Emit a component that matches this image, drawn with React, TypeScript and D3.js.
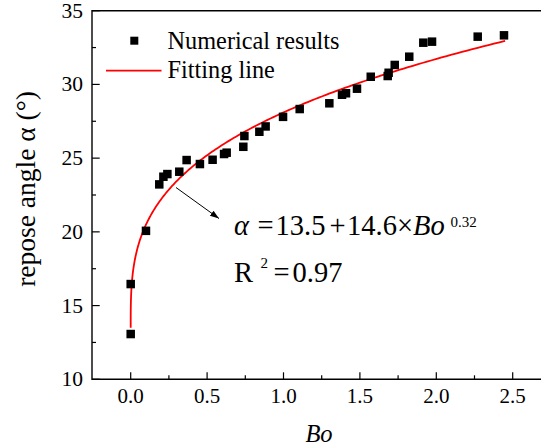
import React, { useEffect, useRef } from "react";
import * as d3 from "d3";

// numerical results (Bo, repose angle)
const boValues = [0, 0, 0.1, 0.187, 0.214, 0.24, 0.318, 0.366, 0.453, 0.536, 0.611, 0.628, 0.737, 0.744, 0.842, 0.883, 0.997, 1.106, 1.3, 1.383, 1.409, 1.481, 1.571, 1.682, 1.688, 1.728, 1.823, 1.915, 1.972, 2.271, 2.443];
const angleValues = [13.07, 16.46, 20.07, 23.22, 23.74, 23.92, 24.08, 24.87, 24.6, 24.89, 25.28, 25.37, 25.77, 26.5, 26.79, 27.15, 27.8, 28.33, 28.72, 29.3, 29.4, 29.71, 30.52, 30.57, 30.79, 31.32, 31.88, 32.83, 32.9, 33.24, 33.33];

// fitting line: alpha = a + b * Bo^c, drawn over Bo in [0, 2.45]
const fitCoefs = [13.5, 14.6, 0.32];
const fitRange = [0, 2.45];

const xTicks = [0, 0.5, 1.0, 1.5, 2.0, 2.5];
const xMinorTicks = [0.25, 0.75, 1.25, 1.75, 2.25];
const yTicks = [10, 15, 20, 25, 30, 35];
const yMinorTicks = [12.5, 17.5, 22.5, 27.5, 32.5];

const W = 541;
const H = 448;
const FONT = "'Liberation Serif', 'Times New Roman', serif";

function Chart() {
  const ref = useRef<SVGSVGElement>(null);

  useEffect(() => {
    const svg = d3.select(ref.current);
    svg.selectAll("*").remove();

    const left = 92, top = 10.7, bottom = 379.3;
    const x = d3.scaleLinear().domain([0, 2.5]).range([130.7, 512.7]);
    const y = d3.scaleLinear().domain([10, 35]).range([bottom, top]);
    const xRight = 2.8;

    const g = svg.append("g");

    // frame (right side runs off the picture)
    g.append("path")
      .attr("d", `M${x(xRight)},${top}H${left}V${bottom}H${x(xRight)}`)
      .attr("fill", "none").attr("stroke", "#000").attr("stroke-width", 1.4);

    // x ticks (inward)
    g.selectAll(".xt").data(xTicks).enter().append("line")
      .attr("x1", d => x(d)).attr("x2", d => x(d))
      .attr("y1", bottom).attr("y2", bottom - 7)
      .attr("stroke", "#000").attr("stroke-width", 1.2);
    g.selectAll(".xm").data(xMinorTicks).enter().append("line")
      .attr("x1", d => x(d)).attr("x2", d => x(d))
      .attr("y1", bottom).attr("y2", bottom - 4)
      .attr("stroke", "#000").attr("stroke-width", 1.2);
    g.selectAll(".xl").data(xTicks).enter().append("text")
      .attr("x", d => x(d)).attr("y", 403)
      .attr("text-anchor", "middle")
      .attr("font-family", FONT).attr("font-size", 21)
      .text(d => d3.format(".1f")(d));

    // y ticks (inward)
    g.selectAll(".yt").data(yTicks).enter().append("line")
      .attr("x1", left).attr("x2", left + 7.7)
      .attr("y1", d => y(d)).attr("y2", d => y(d))
      .attr("stroke", "#000").attr("stroke-width", 1.2);
    g.selectAll(".ym").data(yMinorTicks).enter().append("line")
      .attr("x1", left).attr("x2", left + 4)
      .attr("y1", d => y(d)).attr("y2", d => y(d))
      .attr("stroke", "#000").attr("stroke-width", 1.2);
    g.selectAll(".yl").data(yTicks).enter().append("text")
      .attr("x", left - 9).attr("y", d => y(d) + 7)
      .attr("text-anchor", "end")
      .attr("font-family", FONT).attr("font-size", 21.5)
      .text(d => d);

    // axis titles
    g.append("text")
      .attr("transform", "translate(35,189) rotate(-90)")
      .attr("text-anchor", "middle")
      .attr("font-family", FONT).attr("font-size", 27.5)
      .text("repose angle α (°)");
    g.append("text")
      .attr("x", 319).attr("y", 442)
      .attr("text-anchor", "middle")
      .attr("font-family", FONT).attr("font-size", 24.5).attr("font-style", "italic")
      .text("Bo");

    // fitting line
    const [a, b, c] = fitCoefs;
    const fitX = d3.range(0, 201).map(i => fitRange[0] + (fitRange[1] - fitRange[0]) * Math.pow(i / 200, 3));
    const line = d3.line<number>().x(d => x(d)).y(d => y(a + b * Math.pow(d, c)));
    g.append("path").datum(fitX)
      .attr("d", line)
      .attr("fill", "none").attr("stroke", "#ff0000").attr("stroke-width", 1.8);

    // points
    const s = 8.5;
    g.selectAll(".pt").data(boValues).enter().append("rect")
      .attr("x", d => x(d) - s / 2)
      .attr("y", (d, i) => y(angleValues[i]) - s / 2)
      .attr("width", s).attr("height", s)
      .attr("fill", "#000");

    // legend
    g.append("rect").attr("x", 134.3 - 4).attr("y", 40.7 - 4).attr("width", 8).attr("height", 8).attr("fill", "#000");
    g.append("text").attr("x", 167.5).attr("y", 48.5)
      .attr("font-family", FONT).attr("font-size", 24.3).text("Numerical results");
    g.append("line").attr("x1", 106).attr("x2", 161.5).attr("y1", 70.7).attr("y2", 70.7)
      .attr("stroke", "#ff0000").attr("stroke-width", 1.8);
    g.append("text").attr("x", 167.5).attr("y", 78)
      .attr("font-family", FONT).attr("font-size", 24.3).text("Fitting line");

    // arrow
    svg.append("defs").append("marker")
      .attr("id", "ah").attr("viewBox", "0 0 10 10")
      .attr("refX", 10).attr("refY", 5)
      .attr("markerWidth", 9).attr("markerHeight", 9)
      .attr("markerUnits", "userSpaceOnUse")
      .attr("orient", "auto")
      .append("path").attr("d", "M0,1.5L10,5L0,8.5z").attr("fill", "#000");
    g.append("line").attr("x1", 176).attr("y1", 187.5).attr("x2", 219).attr("y2", 218.5)
      .attr("stroke", "#000").attr("stroke-width", 1).attr("marker-end", "url(#ah)");

    // equation
    const eq = g.append("g").attr("font-family", FONT).attr("font-size", 28.5);
    eq.append("text").attr("x", 234).attr("y", 234.5).attr("font-style", "italic").text("α");
    eq.append("text").attr("x", 257.5).attr("y", 234.5).text("=");
    eq.append("text").attr("x", 275.5).attr("y", 234.5).text("13.5");
    eq.append("text").attr("x", 329.5).attr("y", 234.5).text("+");
    eq.append("text").attr("x", 347).attr("y", 234.5).text("14.6");
    eq.append("text").attr("x", 397).attr("y", 234.5).text("×");
    eq.append("text").attr("x", 413).attr("y", 234.5).attr("font-style", "italic").text("Bo");
    eq.append("text").attr("x", 450.5).attr("y", 227).attr("font-size", 15).text("0.32");
    eq.append("text").attr("x", 234).attr("y", 281.5).text("R");
    eq.append("text").attr("x", 260.5).attr("y", 268).attr("font-size", 15).text("2");
    eq.append("text").attr("x", 273.5).attr("y", 281.5).text("=");
    eq.append("text").attr("x", 292.5).attr("y", 281.5).text("0.97");
  }, []);

  return <svg ref={ref} width={W} height={H} style={{ display: "block" }} />;
}

export default function App() {
  return (
    <div style={{ position: "absolute", left: 0, top: 0, background: "#fff" }}>
      <Chart />
    </div>
  );
}
